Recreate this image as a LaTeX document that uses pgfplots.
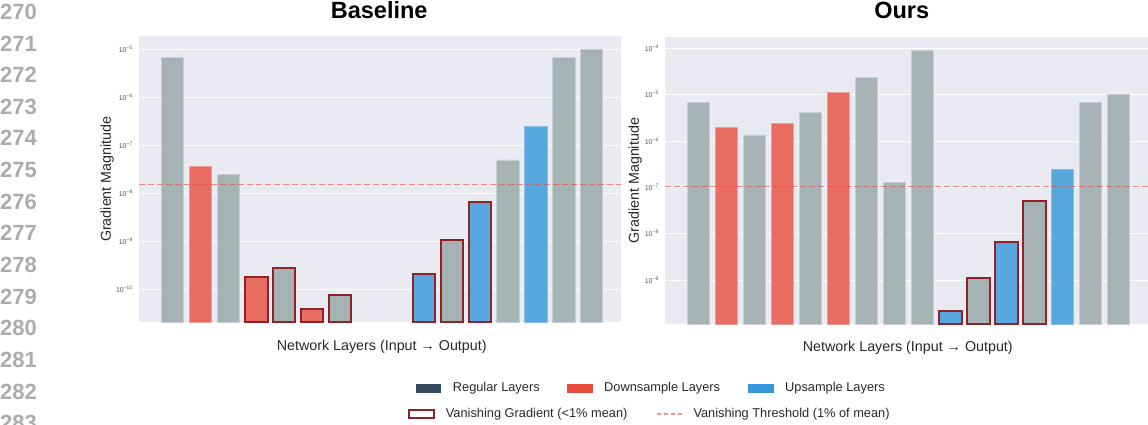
\documentclass[border=0pt]{standalone}
\usepackage{pgfplots}
\pgfplotsset{compat=1.18}
\usepackage{fontspec}
\setmainfont{Liberation Sans}
\definecolor{bg}{HTML}{EAEAF2}
\definecolor{regfill}{RGB}{166,179,181}
\definecolor{regedge}{RGB}{200,207,212}
\definecolor{downfill}{RGB}{232,108,96}
\definecolor{downedge}{RGB}{236,160,156}
\definecolor{upfill}{RGB}{88,168,224}
\definecolor{upedge}{RGB}{140,190,230}
\definecolor{vanedge}{RGB}{145,35,40}
\definecolor{thr}{RGB}{231,76,60}
\definecolor{regleg}{HTML}{34495E}
\definecolor{downleg}{HTML}{E74C3C}
\definecolor{upleg}{HTML}{3498DB}
\definecolor{linenum}{RGB}{172,172,172}
\definecolor{ticklab}{RGB}{85,85,85}
\definecolor{labtext}{RGB}{40,40,40}

\tikzset{
  regbar/.style={fill=regfill, draw=regedge, line width=0.8pt},
  downbar/.style={fill=downfill, draw=downedge, line width=0.8pt},
  upbar/.style={fill=upfill, draw=upedge, line width=0.8pt},
  regvan/.style={fill=regfill, draw=vanedge, line width=2pt},
  downvan/.style={fill=downfill, draw=vanedge, line width=2pt},
  upvan/.style={fill=upfill, draw=vanedge, line width=2pt},
  thrline/.style={draw=thr, opacity=0.6, dash pattern=on 6pt off 3pt, line width=1.3pt},
}
\newcommand{\logtick}{10\textsuperscript{−\pgfmathparse{int(round(-\tick/ln(10)))}\pgfmathresult}}

\begin{document}
\begin{tikzpicture}
\path[use as bounding box] (0pt,0pt) rectangle (1148pt,425pt);
\clip (0pt,0pt) rectangle (1148pt,425pt);

% line numbers
\foreach \n [count=\k from 0] in {270,271,272,273,274,275,276,277,278,279,280,281,282,283}{
  \node[anchor=west, inner sep=0pt, text=linenum, font=\fontsize{22}{26}\selectfont\bfseries]
    at (0pt, {(425-11.7-31.65*\k)*1pt}) {\n};
}

% ---------------- Baseline ----------------
\begin{axis}[
  scale only axis, ymode=log, log origin=infty,
  xmin=-1.2, xmax=16.05, xtick=\empty,
  ymajorgrids, yminorticks=false,
  grid style={white, line width=1pt},
  axis background/.style={fill=bg},
  axis line style={draw=none},
  major tick length=0pt,
  yticklabel style={font=\fontsize{7}{8}\selectfont, text=ticklab, inner sep=0pt, xshift=-6pt},
  yticklabel={\logtick},
  ybar, bar width=0.8, bar shift=0pt,
  at={(139pt,102.7pt)}, anchor=south west, width=482pt, height=286.3pt,
  ymin=2.05e-11, ymax=1.89e-5,
  ytick={1e-10,1e-9,1e-8,1e-7,1e-6,1e-5},
  title={Baseline},
  title style={font=\fontsize{23.5}{28}\selectfont\bfseries, at={(axis description cs:0.5,1)}, anchor=base, inner sep=0pt, yshift=12pt, xshift=-0.8pt},
  xlabel={Network Layers (Input → Output)},
  xlabel style={font=\fontsize{14.3}{17}\selectfont, text=labtext, at={(axis description cs:0.5,0)}, anchor=base, inner sep=0pt, yshift=-27.7pt, xshift=1.7pt},
  ylabel={Gradient Magnitude},
  ylabel style={font=\fontsize{14.3}{17}\selectfont, text=labtext, at={(axis description cs:-0.066,0.5)}, anchor=center},
]
\addplot[regbar]  coordinates {(0,6.7e-6) (2,2.49e-8) (12,4.94e-8) (14,6.9e-6) (15,1.01e-5)};
\addplot[downbar] coordinates {(1,3.58e-8)};
\addplot[upbar]   coordinates {(13,2.44e-7)};
\addplot[downvan] coordinates {(3,1.83e-10) (5,3.94e-11)};
\addplot[regvan]  coordinates {(4,2.82e-10) (6,7.6e-11) (10,1.06e-9)};
\addplot[upvan]   coordinates {(9,2.05e-10) (11,6.5e-9)};
\draw[thrline] (axis cs:-1.2,1.51e-8) -- (axis cs:16.05,1.51e-8);
\end{axis}

% ---------------- Ours ----------------
\begin{axis}[
  scale only axis, ymode=log, log origin=infty,
  xmin=-1.2, xmax=16.05, xtick=\empty,
  ymajorgrids, yminorticks=false,
  grid style={white, line width=1pt},
  axis background/.style={fill=bg},
  axis line style={draw=none},
  major tick length=0pt,
  yticklabel style={font=\fontsize{7}{8}\selectfont, text=ticklab, inner sep=0pt, xshift=-6pt},
  yticklabel={\logtick},
  ybar, bar width=0.8, bar shift=0pt,
  at={(665pt,100.7pt)}, anchor=south west, width=483pt, height=287pt,
  ymin=1.107e-10, ymax=1.73e-4,
  ytick={1e-9,1e-8,1e-7,1e-6,1e-5,1e-4},
  title={Ours},
  title style={font=\fontsize{23.5}{28}\selectfont\bfseries, at={(axis description cs:0.5,1)}, anchor=base, inner sep=0pt, yshift=13.3pt, xshift=-4.8pt},
  xlabel={Network Layers (Input → Output)},
  xlabel style={font=\fontsize{14.3}{17}\selectfont, text=labtext, at={(axis description cs:0.5,0)}, anchor=base, inner sep=0pt, yshift=-26.7pt, xshift=1.3pt},
  ylabel={Gradient Magnitude},
  ylabel style={font=\fontsize{14.3}{17}\selectfont, text=labtext, at={(axis description cs:-0.062,0.5)}, anchor=center},
]
\addplot[regbar]  coordinates {(0,6.7e-6) (2,1.35e-6) (4,4.07e-6) (6,2.4e-5) (7,1.28e-7) (8,9.05e-5) (14,6.93e-6) (15,1.02e-5)};
\addplot[downbar] coordinates {(1,1.97e-6) (3,2.36e-6) (5,1.12e-5)};
\addplot[upbar]   coordinates {(13,2.48e-7)};
\addplot[regvan]  coordinates {(10,1.10e-9) (12,5.07e-8)};
\addplot[upvan]   coordinates {(9,2.14e-10) (11,6.7e-9)};
\draw[thrline] (axis cs:-1.2,1.03e-7) -- (axis cs:16.05,1.03e-7);
\end{axis}

% ---------------- Legend ----------------
\begin{scope}[every node/.style={anchor=west, inner sep=0pt, font=\fontsize{12.8}{15}\selectfont, text=labtext}]
  \fill[regleg]  (415.7pt,32.4pt) rectangle (441pt,41.1pt);
  \node at (452.7pt,36.7pt) {Regular Layers};
  \fill[downleg] (566.7pt,32.4pt) rectangle (592.7pt,41.1pt);
  \node at (604pt,36.7pt) {Downsample Layers};
  \fill[upleg]   (748.3pt,32.4pt) rectangle (774pt,41.1pt);
  \node at (785pt,36.7pt) {Upsample Layers};
  \draw[vanedge, line width=2pt, fill=white] (408.7pt,7pt) rectangle (434pt,15pt);
  \node at (445.7pt,11pt) {Vanishing Gradient (<1\% mean)};
  \draw[thr, opacity=0.6, dash pattern=on 4.5pt off 2.5pt, line width=1.3pt] (656.7pt,11pt) -- (682.7pt,11pt);
  \node at (693.3pt,11pt) {Vanishing Threshold (1\% of mean)};
\end{scope}
\end{tikzpicture}
\end{document}
